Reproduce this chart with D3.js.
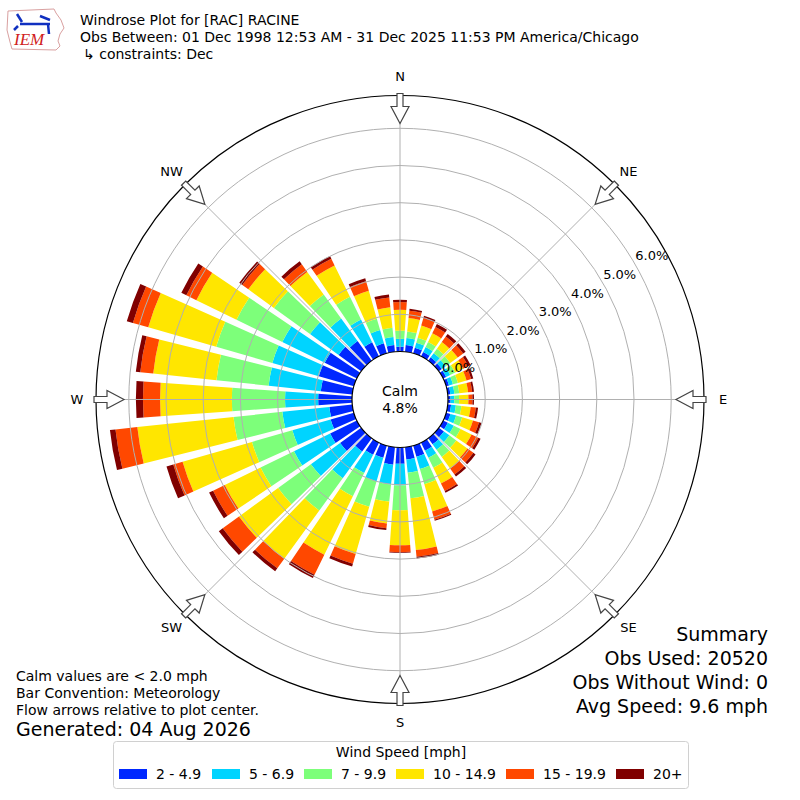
<!DOCTYPE html>
<html>
<head>
<meta charset="utf-8">
<script src="https://cdn.jsdelivr.net/npm/d3@7"></script>
<style>
  body { margin: 0; background: #fff; }
  text { font-family: "DejaVu Sans", sans-serif; fill: #000; }
</style>
</head>
<body>
<svg id="plot" width="800" height="800"></svg>
<script>
// wind directions (deg, meteorological, from north clockwise)
var directions = [0, 10, 20, 30, 40, 50, 60, 70, 80, 90, 100, 110, 120, 130, 140, 150, 160, 170,
                  180, 190, 200, 210, 220, 230, 240, 250, 260, 270, 280, 290, 300, 310, 320, 330, 340, 350];

var speedBins = ["2 - 4.9", "5 - 6.9", "7 - 9.9", "10 - 14.9", "15 - 19.9", "20+"];
var binColors = ["#0028ff", "#00d4ff", "#7dff7a", "#ffe600", "#ff4800", "#800000"];

// percent of obs per direction, one array per speed bin
var bin2to5 = [0.13, 0.18, 0.16, 0.13, 0.11, 0.10, 0.09, 0.08, 0.07, 0.07, 0.09, 0.12, 0.14, 0.17, 0.20, 0.24, 0.31, 0.33,
               0.44, 0.47, 0.34, 0.36, 0.44, 0.70, 0.80, 0.65, 0.62, 0.91, 0.85, 0.98, 0.96, 0.75, 0.65, 0.42, 0.28, 0.18];
var bin5to7 = [0.21, 0.19, 0.14, 0.15, 0.14, 0.13, 0.12, 0.11, 0.11, 0.10, 0.13, 0.16, 0.18, 0.18, 0.18, 0.21, 0.34, 0.36,
               0.58, 0.54, 0.66, 0.55, 0.89, 0.97, 1.08, 1.07, 1.27, 0.89, 1.41, 1.30, 1.27, 0.95, 0.75, 0.68, 0.37, 0.22];
var bin7to10 = [0.22, 0.18, 0.14, 0.15, 0.15, 0.15, 0.15, 0.14, 0.13, 0.13, 0.15, 0.17, 0.20, 0.23, 0.24, 0.30, 0.43, 0.69,
                0.67, 0.46, 0.71, 0.69, 1.07, 1.09, 1.00, 1.13, 1.32, 1.43, 1.41, 1.57, 1.37, 1.20, 0.80, 0.68, 0.32, 0.25];
var bin10to15 = [0.56, 0.36, 0.34, 0.26, 0.22, 0.25, 0.24, 0.24, 0.24, 0.25, 0.25, 0.30, 0.33, 0.37, 0.38, 0.47, 0.76, 1.40,
                 0.94, 0.59, 1.32, 1.75, 1.60, 1.30, 1.07, 1.94, 2.60, 1.93, 1.71, 1.90, 1.20, 0.85, 0.75, 0.94, 0.78, 0.55];
var bin15to20 = [0.21, 0.20, 0.21, 0.19, 0.18, 0.18, 0.15, 0.13, 0.11, 0.11, 0.14, 0.17, 0.20, 0.20, 0.20, 0.23, 0.23, 0.18,
                 0.18, 0.13, 0.27, 0.60, 0.32, 0.54, 0.35, 0.26, 0.59, 0.46, 0.35, 0.43, 0.30, 0.20, 0.25, 0.20, 0.27, 0.27];
var bin20plus = [0.06, 0.05, 0.06, 0.09, 0.09, 0.08, 0.07, 0.06, 0.05, 0.04, 0.06, 0.07, 0.07, 0.07, 0.07, 0.05, 0.03, 0.05,
                 0.02, 0.05, 0.08, 0.10, 0.10, 0.13, 0.12, 0.19, 0.15, 0.19, 0.12, 0.17, 0.15, 0.10, 0.10, 0.08, 0.08, 0.08];

var rangeTicks = [0, 1, 2, 3, 4, 5, 6];
var rangeLabels = ["0.0%", "1.0%", "2.0%", "3.0%", "4.0%", "5.0%", "6.0%"];
var compassAngles = [0, 45, 90, 135, 180, 225, 270, 315];
var compassLabels = ["N", "NE", "E", "SE", "S", "SW", "W", "NW"];

var calmValue = "4.8%";
var titleLines = ["Windrose Plot for [RAC] RACINE",
                  "Obs Between: 01 Dec 1998 12:53 AM - 31 Dec 2025 11:53 PM America/Chicago",
                  "\u21b3 constraints: Dec"];
var noteLines = ["Calm values are < 2.0 mph", "Bar Convention: Meteorology", "Flow arrows relative to plot center."];
var generatedText = "Generated: 04 Aug 2026";
var summaryLines = ["Summary", "Obs Used: 20520", "Obs Without Wind: 0", "Avg Speed: 9.6 mph"];

var svg = d3.select("#plot");

var cx = 400, cy = 399.5;
var outerR = 304;
var calmR = 48;

var r = d3.scaleLinear().domain([0, 6]).range([calmR, 271.2]);

// build table for stacking
var keys = ["b0", "b1", "b2", "b3", "b4", "b5"];
var series = [bin2to5, bin5to7, bin7to10, bin10to15, bin15to20, bin20plus];
var table = directions.map(function (d, i) {
  var row = { dir: d };
  keys.forEach(function (k, j) { row[k] = series[j][i]; });
  return row;
});
var stacked = d3.stack().keys(keys)(table);

var g = svg.append("g").attr("transform", "translate(" + cx + "," + cy + ")");

var halfW = 4 * Math.PI / 180;
var arc = d3.arc()
  .innerRadius(function (d) { return r(d[0]); })
  .outerRadius(function (d) { return r(d[1]); })
  .startAngle(function (d) { return d.data.dir * Math.PI / 180 - halfW; })
  .endAngle(function (d) { return d.data.dir * Math.PI / 180 + halfW; });

g.append("g").selectAll("g")
  .data(stacked)
  .enter().append("g")
  .attr("fill", function (d, i) { return binColors[i]; })
  .selectAll("path")
  .data(function (d) { return d; })
  .enter().append("path")
  .attr("d", arc);

// grid rings
g.append("g").selectAll("circle")
  .data(rangeTicks.slice(1))
  .enter().append("circle")
  .attr("r", function (d) { return r(d); })
  .attr("fill", "none")
  .attr("stroke", "#b0b0b0")
  .attr("stroke-width", 1);

// radial grid lines
g.append("g").selectAll("line")
  .data(compassAngles)
  .enter().append("line")
  .attr("x1", function (a) { return calmR * Math.sin(a * Math.PI / 180); })
  .attr("y1", function (a) { return -calmR * Math.cos(a * Math.PI / 180); })
  .attr("x2", function (a) { return outerR * Math.sin(a * Math.PI / 180); })
  .attr("y2", function (a) { return -outerR * Math.cos(a * Math.PI / 180); })
  .attr("stroke", "#b0b0b0")
  .attr("stroke-width", 1);

// outer frame
g.append("circle").attr("r", outerR).attr("fill", "none").attr("stroke", "#000").attr("stroke-width", 1.2);

// calm circle
g.append("circle").attr("r", calmR).attr("fill", "#fff").attr("stroke", "#000").attr("stroke-width", 1.2);
g.append("text").attr("x", 0).attr("y", -9).attr("text-anchor", "middle").attr("dominant-baseline", "central")
  .style("font-size", "14px").text("Calm");
g.append("text").attr("x", 0).attr("y", 8).attr("text-anchor", "middle").attr("dominant-baseline", "central")
  .style("font-size", "14px").text(calmValue);

// range labels
var la = 30 * Math.PI / 180;
g.append("g").selectAll("text")
  .data(rangeTicks)
  .enter().append("text")
  .attr("x", function (d) { return r(d) * Math.cos(la) + 17; })
  .attr("y", function (d) { return -r(d) * Math.sin(la) - 8; })
  .attr("text-anchor", "middle")
  .attr("dominant-baseline", "central")
  .style("font-size", "13px")
  .text(function (d, i) { return rangeLabels[i]; });

// flow arrows pointing to center
var arrowPts = [[-3, -306], [3, -306], [3, -293], [9, -293], [0, -276], [-9, -293], [-3, -293]];
g.append("g").selectAll("polygon")
  .data(compassAngles)
  .enter().append("polygon")
  .attr("points", arrowPts.map(function (p) { return p.join(","); }).join(" "))
  .attr("transform", function (a) { return "rotate(" + a + ")"; })
  .attr("fill", "#fff")
  .attr("stroke", "#444")
  .attr("stroke-width", 1.2);

// compass labels
g.append("g").selectAll("text")
  .data(compassAngles)
  .enter().append("text")
  .attr("x", function (a) { return 323 * Math.sin(a * Math.PI / 180); })
  .attr("y", function (a) { return -323 * Math.cos(a * Math.PI / 180); })
  .attr("text-anchor", "middle")
  .attr("dominant-baseline", "central")
  .style("font-size", "13px")
  .text(function (a, i) { return compassLabels[i]; });

// title
svg.append("g").selectAll("text")
  .data(titleLines)
  .enter().append("text")
  .attr("x", function (d, i) { return i == 2 ? 83 : 80; })
  .attr("y", function (d, i) { return 25 + i * 17; })
  .style("font-size", "14px")
  .text(function (d) { return d; });

// IEM logo
var logo = svg.append("g");
logo.append("path")
  .attr("d", "M8,11 L54,9 L56,13 L61,20 L64,28 L60,34 L58,41 L60,46 L56,50 L12,49 L10,42 L7,30 Z")
  .attr("fill", "none").attr("stroke", "#d9a0a0").attr("stroke-width", 1);
logo.append("path").attr("d", "M20,24 L50,24").attr("stroke", "#1030c0").attr("stroke-width", 2.5);
logo.append("path").attr("d", "M17,14 L22,22 M40,16 L50,20 M48,24 L49,34 M18,26 L14,30")
  .attr("stroke", "#1030c0").attr("stroke-width", 2.5).attr("fill", "none");
logo.append("text").attr("x", 14).attr("y", 45)
  .style("font-family", "'Liberation Serif', serif").style("font-style", "italic")
  .style("font-size", "17px").style("fill", "#d02020").text("IEM");

// notes bottom left
svg.append("g").selectAll("text")
  .data(noteLines)
  .enter().append("text")
  .attr("x", 16)
  .attr("y", function (d, i) { return 681 + i * 17; })
  .style("font-size", "14px")
  .text(function (d) { return d; });
svg.append("text").attr("x", 16).attr("y", 736).style("font-size", "19px").text(generatedText);

// summary bottom right
svg.append("g").selectAll("text")
  .data(summaryLines)
  .enter().append("text")
  .attr("x", 768)
  .attr("y", function (d, i) { return 641 + i * 24; })
  .attr("text-anchor", "end")
  .style("font-size", "19px")
  .text(function (d) { return d; });

// legend
var leg = svg.append("g");
leg.append("rect").attr("x", 113.5).attr("y", 741.5).attr("width", 575).attr("height", 47)
  .attr("rx", 3).attr("fill", "#fff").attr("stroke", "#d0d0d0");
leg.append("text").attr("x", 401).attr("y", 757).attr("text-anchor", "middle")
  .style("font-size", "14px").text("Wind Speed [mph]");
var legX = [119, 212, 304, 396, 506, 616];
var item = leg.selectAll("g.item")
  .data(speedBins)
  .enter().append("g").attr("class", "item")
  .attr("transform", function (d, i) { return "translate(" + legX[i] + ",769)"; });
item.append("rect").attr("width", 28).attr("height", 10).attr("fill", function (d, i) { return binColors[i]; });
item.append("text").attr("x", 37).attr("y", 10).style("font-size", "14px").text(function (d) { return d; });
</script>
</body>
</html>
